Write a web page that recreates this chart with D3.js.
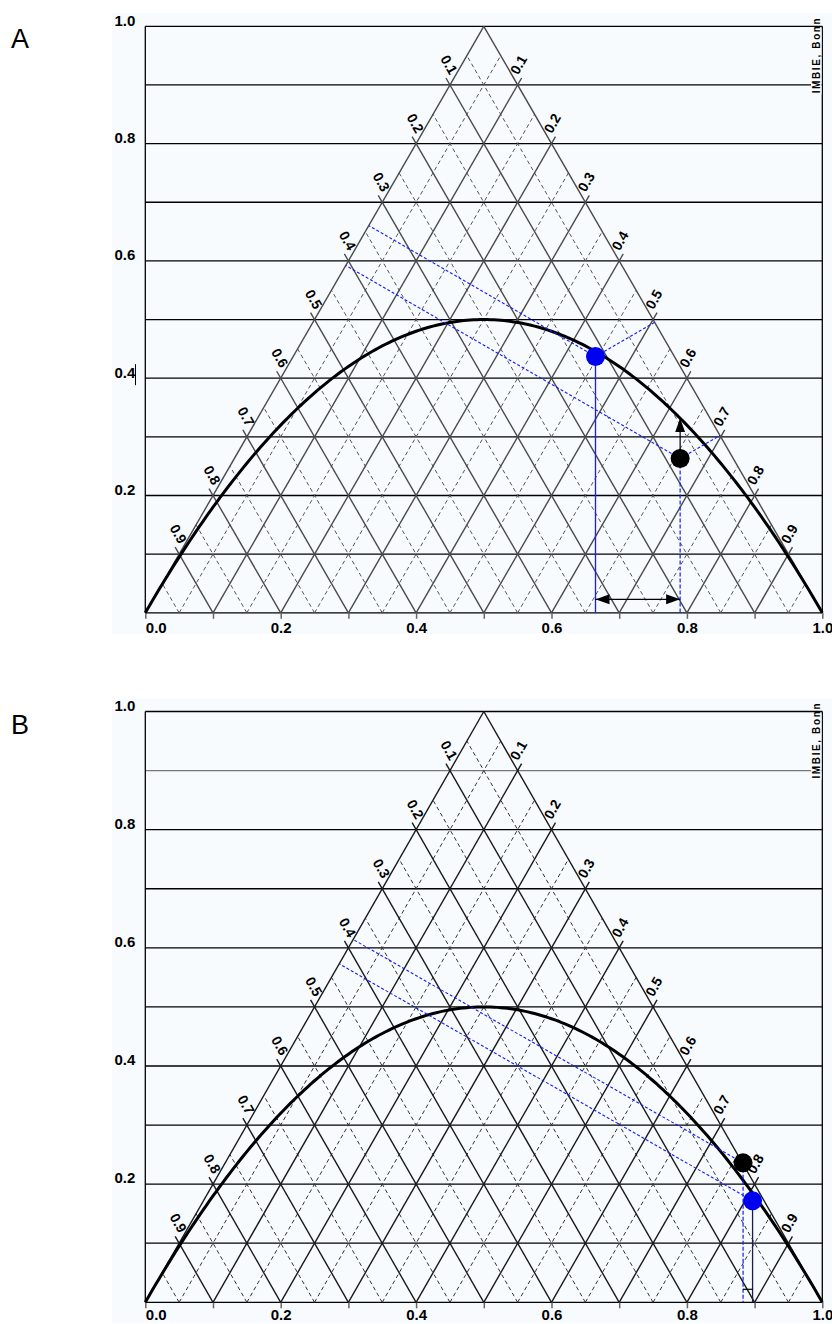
<!DOCTYPE html>
<html>
<head>
<meta charset="utf-8">
<script src="https://cdn.jsdelivr.net/npm/d3@7"></script>
<style>
  body { margin: 0; background: #fff; }
  svg { display: block; }
</style>
</head>
<body>
<script>
// values
var hLevels = [0, 0.1, 0.2, 0.3, 0.4, 0.5, 0.6, 0.7, 0.8, 0.9, 1.0];
var xTickValues = [0, 0.1, 0.2, 0.3, 0.4, 0.5, 0.6, 0.7, 0.8, 0.9, 1.0];
var xLabelValues = [0, 0.2, 0.4, 0.6, 0.8, 1.0];
var xLabelText = ["0.0", "0.2", "0.4", "0.6", "0.8", "1.0"];
var yLabelValues = [0.2, 0.4, 0.6, 0.8, 1.0];
var yLabelText = ["0.2", "0.4", "0.6", "0.8", "1.0"];
var solidLevels = [0.1, 0.2, 0.3, 0.4, 0.5, 0.6, 0.7, 0.8, 0.9];
var dashedLevels = [0.05, 0.15, 0.25, 0.35, 0.45, 0.55, 0.65, 0.75, 0.85, 0.95];
var sideLabelText = ["0.1", "0.2", "0.3", "0.4", "0.5", "0.6", "0.7", "0.8", "0.9"];

// black = observed, blue = expected under HWE
var obsA = { p: 0.790, h: 0.263 };
var hweA = { p: 0.665, h: 0.437 };
var obsB = { p: 0.883, h: 0.236 };
var hweB = { p: 0.897, h: 0.172 };
var arrowLevelA = 0.023;
var arrowLevelB = 0.022;

var font = "'Liberation Sans', Arial, sans-serif";

var svg = d3.select("body").append("svg")
    .attr("width", 832)
    .attr("height", 1324);

var defs = svg.append("defs");
defs.append("marker")
    .attr("id", "arrowHead")
    .attr("markerUnits", "userSpaceOnUse")
    .attr("viewBox", "0 0 14 10")
    .attr("refX", 14).attr("refY", 5)
    .attr("markerWidth", 14).attr("markerHeight", 11)
    .attr("orient", "auto-start-reverse")
    .append("path")
    .attr("d", "M0,0 L14,5 L0,10 Z")
    .attr("fill", "#000");

var x = d3.scaleLinear().domain([0, 1]).range([145.3, 822.3]);

function hwe(p) { return 2 * p * (1 - p); }

function drawPanel(cfg) {
    var y = d3.scaleLinear().domain([0, 1]).range([cfg.bottom, cfg.top]);
    var g = svg.append("g");
    var P = function (p, h) { return [x(p), y(h)]; };

    // background
    g.append("rect")
        .attr("x", 112).attr("y", cfg.top - 13)
        .attr("width", 720).attr("height", cfg.bottom - cfg.top + 34)
        .attr("fill", "#f7fbfe");

    // horizontal lines + frame
    g.selectAll(".hline").data(hLevels).enter().append("line")
        .attr("x1", x(0)).attr("x2", x(1))
        .attr("y1", function (d) { return y(d); })
        .attr("y2", function (d) { return y(d); })
        .attr("stroke", function (d) { return (cfg.greyTop && d === 0.9) ? "#777" : "#000"; })
        .attr("stroke-width", 1.3);
    [0, 1].forEach(function (v) {
        g.append("line")
            .attr("x1", x(v)).attr("x2", x(v))
            .attr("y1", y(0)).attr("y2", y(1))
            .attr("stroke", "#000").attr("stroke-width", 1.3);
    });

    // x axis ticks and labels
    var xAxis = g.append("g")
        .attr("transform", "translate(0," + y(0) + ")")
        .call(d3.axisBottom(x).tickValues(xTickValues).tickSize(6).tickPadding(cfg.labelPad)
            .tickFormat(function (d) {
                var i = xLabelValues.findIndex(function (v) { return Math.abs(v - d) < 1e-6; });
                return i >= 0 ? xLabelText[i] : "";
            }));
    xAxis.select(".domain").remove();
    xAxis.selectAll(".tick line").attr("stroke", "#666").attr("stroke-width", 1.5);
    xAxis.selectAll(".tick text")
        .attr("font-family", font).attr("font-size", 15).attr("font-weight", "bold")
        .attr("fill", "#000")
        .attr("text-anchor", function (d) { return d === 0 ? "start" : "middle"; });

    // y axis labels
    var yAxis = g.append("g")
        .attr("transform", "translate(" + x(0) + ",0)")
        .call(d3.axisLeft(y).tickValues(yLabelValues).tickSize(0).tickPadding(10)
            .tickFormat(function (d, i) { return yLabelText[i]; }));
    yAxis.select(".domain").remove();
    yAxis.selectAll(".tick text")
        .attr("font-family", font).attr("font-size", 15).attr("font-weight", "bold")
        .attr("fill", "#000").attr("dy", "-0.08em");

    // triangle grid: lines parallel to the two sides
    var leftFam = function (a) { return [P(a, 0), P((1 + a) / 2, 1 - a)]; };
    var rightFam = function (b) { return [P(b, 0), P(b / 2, b)]; };

    dashedLevels.forEach(function (a) {
        [leftFam(a), rightFam(a)].forEach(function (s) {
            g.append("line")
                .attr("x1", s[0][0]).attr("y1", s[0][1])
                .attr("x2", s[1][0]).attr("y2", s[1][1])
                .attr("stroke", cfg.dashColor).attr("stroke-width", 1)
                .attr("stroke-dasharray", "4,3");
        });
    });

    function extend(s, len) {
        var dx = s[1][0] - s[0][0], dy = s[1][1] - s[0][1];
        var n = Math.sqrt(dx * dx + dy * dy);
        return { ux: dx / n, uy: dy / n, end: [s[1][0] + dx / n * len, s[1][1] + dy / n * len] };
    }

    // the two sides themselves
    [leftFam(0), rightFam(1)].forEach(function (s) {
        g.append("line")
            .attr("x1", s[0][0]).attr("y1", s[0][1])
            .attr("x2", s[1][0]).attr("y2", s[1][1])
            .attr("stroke", cfg.gridColor).attr("stroke-width", 1.4);
    });

    solidLevels.forEach(function (a, i) {
        var sL = leftFam(a), sR = rightFam(a);
        var eL = extend(sL, 8), eR = extend(sR, 8);
        g.append("line")
            .attr("x1", sL[0][0]).attr("y1", sL[0][1])
            .attr("x2", eL.end[0]).attr("y2", eL.end[1])
            .attr("stroke", cfg.gridColor).attr("stroke-width", 1.4);
        g.append("line")
            .attr("x1", sR[0][0]).attr("y1", sR[0][1])
            .attr("x2", eR.end[0]).attr("y2", eR.end[1])
            .attr("stroke", cfg.gridColor).attr("stroke-width", 1.4);

        // right side label
        var cx = sL[1][0] + 18 * eL.ux - 9.5 * 0.866;
        var cy = sL[1][1] + 18 * eL.uy - 9.5 * 0.5;
        g.append("text")
            .attr("transform", "translate(" + cx + "," + cy + ") rotate(-60)")
            .attr("text-anchor", "middle").attr("dominant-baseline", "central")
            .attr("font-family", font).attr("font-size", 14).attr("font-weight", "bold")
            .text(sideLabelText[i]);

        // left side label
        cx = sR[1][0] + 18 * eR.ux + 9.5 * 0.866;
        cy = sR[1][1] + 18 * eR.uy - 9.5 * 0.5;
        g.append("text")
            .attr("transform", "translate(" + cx + "," + cy + ") rotate(60)")
            .attr("text-anchor", "middle").attr("dominant-baseline", "central")
            .attr("font-family", font).attr("font-size", 14).attr("font-weight", "bold")
            .text(sideLabelText[8 - i]);
    });

    // HWE parabola
    var curveP = d3.range(0, 1.0001, 0.005);
    g.append("path")
        .datum(curveP)
        .attr("d", d3.line().x(function (p) { return x(p); }).y(function (p) { return y(hwe(p)); }))
        .attr("fill", "none").attr("stroke", "#000").attr("stroke-width", 3);

    // perpendicular feet to the sides (pixel space)
    function foot(pt, a, b) {
        var dx = b[0] - a[0], dy = b[1] - a[1];
        var n = Math.sqrt(dx * dx + dy * dy);
        var ux = dx / n, uy = dy / n;
        var t = (pt[0] - a[0]) * ux + (pt[1] - a[1]) * uy;
        return [a[0] + t * ux, a[1] + t * uy];
    }
    var leftSide = [P(0, 0), P(0.5, 1)];
    var rightSide = [P(1, 0), P(0.5, 1)];

    [cfg.obs, cfg.hwe].forEach(function (d) {
        var pt = P(d.p, d.h);
        [leftSide, rightSide].forEach(function (side) {
            var f = foot(pt, side[0], side[1]);
            g.append("line")
                .attr("x1", pt[0]).attr("y1", pt[1])
                .attr("x2", f[0]).attr("y2", f[1])
                .attr("stroke", "#1a1aff").attr("stroke-width", 1.1)
                .attr("stroke-dasharray", "3,2");
        });
    });

    // drops to the base
    g.append("line")
        .attr("x1", x(cfg.obs.p)).attr("x2", x(cfg.obs.p))
        .attr("y1", y(cfg.obs.h)).attr("y2", y(0))
        .attr("stroke", "#1a1aff").attr("stroke-width", 1.2)
        .attr("stroke-dasharray", "4,2");
    g.append("line")
        .attr("x1", x(cfg.hwe.p)).attr("x2", x(cfg.hwe.p))
        .attr("y1", y(cfg.hwe.h)).attr("y2", y(0))
        .attr("stroke", cfg.hweDropColor).attr("stroke-width", 1.3);

    // arrows
    g.append("line")
        .attr("x1", x(cfg.hwe.p)).attr("x2", x(cfg.obs.p))
        .attr("y1", y(cfg.arrowLevel)).attr("y2", y(cfg.arrowLevel))
        .attr("stroke", "#000").attr("stroke-width", 1.2)
        .attr("marker-start", cfg.arrows ? "url(#arrowHead)" : null)
        .attr("marker-end", cfg.arrows ? "url(#arrowHead)" : null);
    if (cfg.arrows) {
        g.append("line")
            .attr("x1", x(cfg.obs.p)).attr("x2", x(cfg.obs.p))
            .attr("y1", y(cfg.obs.h)).attr("y2", y(hwe(cfg.obs.p)))
            .attr("stroke", "#000").attr("stroke-width", 1.2)
            .attr("marker-end", "url(#arrowHead)");
    }

    // points
    g.append("circle")
        .attr("cx", x(cfg.obs.p)).attr("cy", y(cfg.obs.h)).attr("r", 9.5)
        .attr("fill", "#000");
    g.append("circle")
        .attr("cx", x(cfg.hwe.p)).attr("cy", y(cfg.hwe.h)).attr("r", 9.5)
        .attr("fill", "#0000f0");

    // small mark after the 0.4 label (panel A)
    if (cfg.mark04) {
        g.append("line")
            .attr("x1", 135.5).attr("x2", 135.5)
            .attr("y1", y(0.4) - 14).attr("y2", y(0.4) + 7)
            .attr("stroke", "#000").attr("stroke-width", 1);
    }

    // watermark
    g.append("rect")
        .attr("x", 811).attr("y", y(1) + 2)
        .attr("width", 10.5).attr("height", 66)
        .attr("fill", "#f7fbfe");
    g.append("text")
        .attr("transform", "translate(820," + (y(1) + 67) + ") rotate(-90)")
        .attr("font-family", font).attr("font-size", 10).attr("font-weight", "bold")
        .attr("textLength", 75).attr("lengthAdjust", "spacing")
        .text("IMBIE, Bonn");

    // panel letter
    svg.append("text")
        .attr("x", 11).attr("y", cfg.top + 22)
        .attr("font-family", font).attr("font-size", 27)
        .text(cfg.letter);
}

drawPanel({
    letter: "A", top: 26.3, bottom: 612.8, labelPad: 4,
    obs: obsA, hwe: hweA, arrowLevel: arrowLevelA, arrows: true,
    gridColor: "#4a4a4a", dashColor: "#555", hweDropColor: "#1a1aff",
    mark04: true, greyTop: false
});

drawPanel({
    letter: "B", top: 711.5, bottom: 1302.3, labelPad: 1,
    obs: obsB, hwe: hweB, arrowLevel: arrowLevelB, arrows: false,
    gridColor: "#1a1a1a", dashColor: "#333", hweDropColor: "#1c1c55",
    mark04: false, greyTop: true
});
</script>
</body>
</html>
